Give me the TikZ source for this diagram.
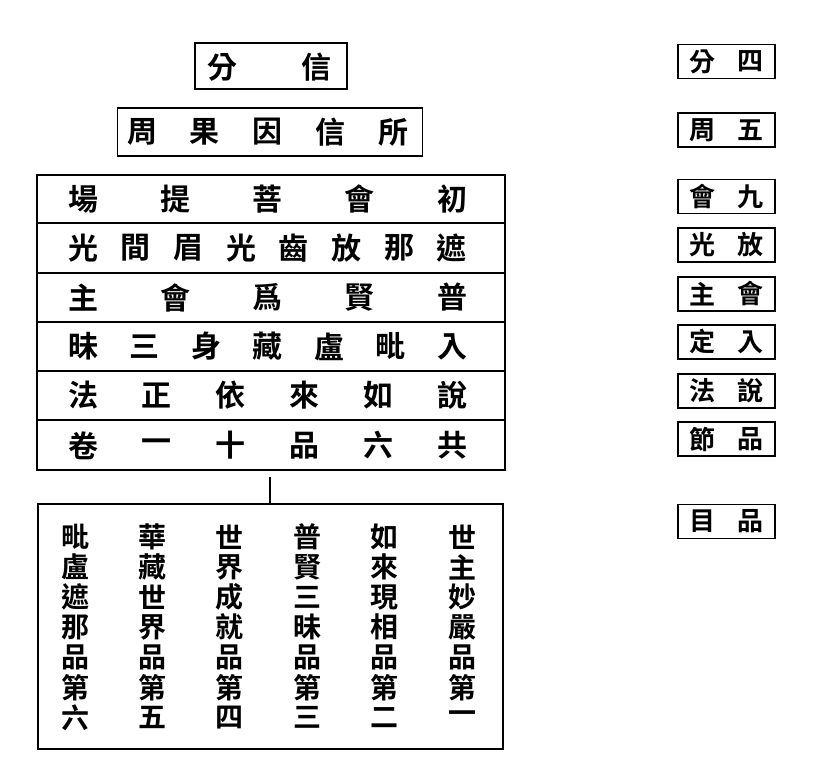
\documentclass[tikz,border=0pt]{standalone}
\usepackage{fontspec}
\newfontfamily\cjk[BoldFont={Noto Sans CJK TC Bold}]{Noto Sans CJK TC}
\usetikzlibrary{positioning}

\tikzset{
  box/.style={draw, inner sep=0pt},
  ch/.style={inner sep=0pt, font=\cjk\bfseries\fontsize{22.5}{22.5}\selectfont},
  colch/.style={inner sep=0pt, font=\cjk\bfseries\fontsize{21}{21}\selectfont},
  sm/.style={inner sep=0pt, font=\cjk\bfseries\fontsize{19.5}{19.5}\selectfont}
}

\begin{document}
\begin{tikzpicture}[x=0.75pt, y=-0.75pt, line width=1pt]
  \useasboundingbox (0,0) rectangle (821,780);

  % upper boxes
  \node[box, minimum width=114pt, minimum height=34.5pt] (sect) at (271,66) {};
  \node[ch] (s1) at (222,67) {分};
  \node[ch] (s2) at (316,67) {信};

  \node[box, minimum width=228.75pt, minimum height=36pt] (cause) at (270,132) {};
  \foreach \c [count=\i] in {周,果,因,信,所}
    \node[ch] (c\i) at ({142+62.75*(\i-1)},132) {\c};

  % table
  \node[box, minimum width=351pt, minimum height=221.25pt] (tab) at (271,322.5) {};
  \foreach \y in {223,273,322,371,420}
    \draw (tab.west |- 0,\y) -- (tab.east |- 0,\y);

  \foreach \c [count=\i] in {場,提,菩,會,初}
    \node[ch] (ra\i) at ({83+92.25*(\i-1)},199) {\c};
  \foreach \c [count=\i] in {光,間,眉,光,齒,放,那,遮}
    \node[ch] (rb\i) at ({83+52.71*(\i-1)},248) {\c};
  \foreach \c [count=\i] in {主,會,爲,賢,普}
    \node[ch] (rc\i) at ({83+92.25*(\i-1)},297.5) {\c};
  \foreach \c [count=\i] in {昧,三,身,藏,盧,毗,入}
    \node[ch] (rd\i) at ({83+61.5*(\i-1)},346.5) {\c};
  \foreach \c [count=\i] in {法,正,依,來,如,說}
    \node[ch] (re\i) at ({83+73.8*(\i-1)},395.5) {\c};
  \foreach \c [count=\i] in {卷,一,十,品,六,共}
    \node[ch] (rf\i) at ({83+73.8*(\i-1)},445.5) {\c};

  % chapters
  \node[box, minimum width=348.75pt, minimum height=183.75pt] (chap) at (270.5,626.5) {};
  \coordinate (tick) at (270,477);
  \draw (tick) -- (chap.north -| tick);

  \foreach \col [count=\k] in {{毗,盧,遮,那,品,第,六},{華,藏,世,界,品,第,五},
      {世,界,成,就,品,第,四},{普,賢,三,昧,品,第,三},
      {如,來,現,相,品,第,二},{世,主,妙,嚴,品,第,一}}
    \foreach \c [count=\j] in \col
      \node[colch] (v\k-\j) at ({75+77.4*(\k-1)},{537+30.1*(\j-1)}) {\c};

  % right column
  \foreach \a/\b/\y [count=\i] in {分/四/61.5, 周/五/130, 會/九/196.5, 光/放/245,
      主/會/294, 定/入/342, 法/說/391, 節/品/439, 目/品/521.5} {
    \node[box, minimum width=72.75pt, minimum height=25.5pt] (side\i) at (726.5,\y) {};
    \node[sm] (sa\i) at (702,\y) {\a};
    \node[sm] (sb\i) at (750,\y) {\b};
  }
\end{tikzpicture}
\end{document}
